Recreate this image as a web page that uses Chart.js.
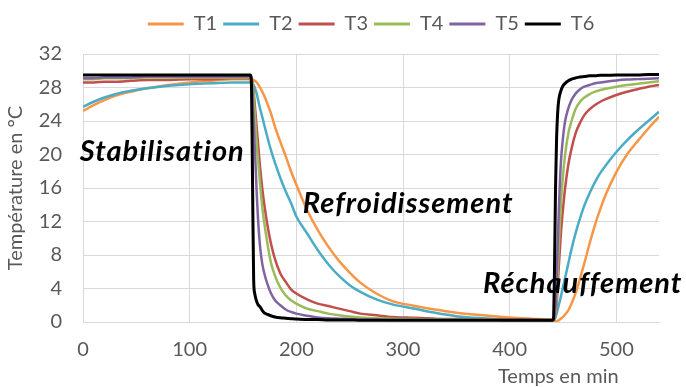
<!DOCTYPE html>
<html>
<head>
<meta charset="utf-8">
<script src="https://cdn.jsdelivr.net/npm/chart.js@4/dist/chart.umd.min.js"></script>
<style>
  html, body { margin: 0; padding: 0; background: #fff; }
  #box { width: 686px; height: 387px; }
</style>
</head>
<body>
<div id="box"><canvas id="myChart"></canvas></div>
<script>
// time in minutes
const times = [0,10,20,30,45,60,80,100,120,140,150,155,157,158,159,160,161,162,163,164,
  166,168,170,173,176,180,185,190,195,200,210,220,230,240,250,260,275,290,310,330,
  350,375,400,420,435,440,441,442,443,444,445,446,448,450,452,455,458,462,466,470,
  475,480,485,490,500,510,520,530,540];

const t1 = [25.2,25.9,26.5,27.0,27.5,27.9,28.3,28.6,28.8,29.0,29.0,29.0,29.0,29.0,29.0,28.9,28.8,28.7,28.6,28.4,
  28.0,27.5,27.0,26.0,25.0,23.3,21.5,19.8,18.0,16.4,13.4,11.0,9.0,7.3,5.9,4.7,3.4,2.5,1.95,1.5,
  1.1,0.8,0.55,0.4,0.3,0.25,0.2,0.15,0.1,0.1,0.15,0.2,0.4,0.6,0.9,1.4,2.2,3.5,5.2,7.0,
  9.4,11.6,13.5,15.2,17.9,20.0,21.6,23.1,24.5];
const t2 = [25.7,26.3,26.8,27.2,27.6,27.9,28.2,28.4,28.5,28.6,28.6,28.6,28.6,28.6,28.5,28.3,28.0,27.6,27.2,26.6,
  25.5,24.5,23.5,22.0,20.6,19.0,17.2,15.6,14.2,12.6,10.6,8.6,6.9,5.5,4.4,3.6,2.7,2.1,1.6,1.1,
  0.7,0.45,0.3,0.25,0.2,0.2,0.2,0.3,0.6,1.0,1.5,2.0,3.0,4.2,5.3,7.0,8.7,10.7,12.4,13.9,
  15.4,16.7,17.8,18.7,20.3,21.7,22.9,24.0,25.1];
const t3 = [28.6,28.6,28.7,28.7,28.8,28.9,28.9,29.0,29.0,29.1,29.1,29.1,29.1,29.0,28.6,27.5,26.0,24.5,23.0,21.5,
  18.5,16.0,14.0,11.5,9.5,7.5,5.8,4.8,3.9,3.4,2.7,2.2,1.9,1.6,1.3,1.0,0.8,0.6,0.5,0.4,
  0.35,0.3,0.3,0.3,0.25,0.25,0.3,0.4,0.8,2.0,4.0,6.5,10.5,13.5,16.0,18.8,20.7,22.6,23.8,24.7,
  25.4,25.9,26.3,26.6,27.1,27.5,27.8,28.1,28.3];
const t4 = [29.0,29.0,29.1,29.1,29.1,29.2,29.2,29.2,29.2,29.2,29.2,29.2,29.2,29.1,28.5,27.0,25.0,23.0,21.0,19.5,
  16.5,13.8,11.8,9.3,7.2,5.5,4.1,3.2,2.6,2.2,1.6,1.3,1.0,0.8,0.65,0.55,0.45,0.4,0.35,0.3,
  0.3,0.3,0.25,0.25,0.25,0.25,0.3,0.4,1.0,3.0,6.0,9.0,14.0,17.5,20.0,22.5,24.0,25.5,26.3,26.8,
  27.2,27.5,27.7,27.85,28.1,28.3,28.45,28.6,28.75];
const t5 = [29.1,29.1,29.2,29.2,29.2,29.3,29.3,29.3,29.3,29.3,29.3,29.3,29.3,29.0,27.0,24.0,21.0,18.0,15.0,12.5,
  9.0,7.0,5.8,4.5,3.5,2.6,2.0,1.5,1.2,1.0,0.75,0.55,0.45,0.4,0.35,0.3,0.3,0.25,0.25,0.25,
  0.25,0.25,0.2,0.2,0.2,0.2,0.3,0.5,2.0,5.0,9.0,13.0,19.0,22.0,24.0,25.5,26.5,27.3,27.8,28.1,
  28.3,28.5,28.6,28.7,28.85,28.95,29.0,29.05,29.1];
const t6 = [29.5,29.5,29.5,29.5,29.5,29.5,29.5,29.5,29.5,29.5,29.5,29.5,29.5,28.0,16.0,5.0,3.4,2.8,2.4,2.1,
  1.8,1.4,1.1,0.9,0.75,0.6,0.5,0.45,0.4,0.35,0.3,0.3,0.25,0.25,0.25,0.2,0.2,0.2,0.2,0.2,
  0.2,0.2,0.2,0.2,0.2,0.2,0.3,6.0,16.0,22.0,25.0,26.5,27.6,28.2,28.5,28.8,29.0,29.15,29.25,29.3,
  29.4,29.4,29.45,29.45,29.5,29.5,29.5,29.55,29.55];

const seriesNames = ["T1","T2","T3","T4","T5","T6"];
const seriesValues = [t1, t2, t3, t4, t5, t6];
const seriesColors = ["#F79646","#4BACC6","#C0504D","#9BBB59","#8064A2","#000000"];

const xTicks = [0,100,200,300,400,500];
const yTicks = [0,4,8,12,16,20,24,28,32];

// phase labels, anchored in data units (left edge, baseline)
const phaseNotes = [
  { text: "Stabilisation",   x: -3,  y: 19.2 },
  { text: "Refroidissement", x: 206, y: 13.0 },
  { text: "Réchauffement",   x: 375, y: 3.5 }
];

const grey = "#595959";
const gridColor = "#d9d9d9";

const datasets = seriesNames.map((name, i) => ({
  label: name,
  data: times.map((t, k) => ({ x: t, y: seriesValues[i][k] })),
  borderColor: seriesColors[i],
  backgroundColor: seriesColors[i],
  borderWidth: i == 5 ? 3 : 2.5,
  pointRadius: 0,
  cubicInterpolationMode: 'monotone',
  order: 5 - i   // T6 on top
}));

const phasePlugin = {
  id: 'phaseText',
  afterDatasetsDraw(chart) {
    const ctx = chart.ctx;
    const x = chart.scales.x, y = chart.scales.y;
    ctx.save();
    ctx.fillStyle = "#000";
    ctx.font = "italic bold 29px Lato";
    ctx.letterSpacing = "1px";
    ctx.textAlign = "left";
    ctx.textBaseline = "alphabetic";
    phaseNotes.forEach(n => {
      ctx.fillText(n.text, x.getPixelForValue(n.x), y.getPixelForValue(n.y));
    });
    // x axis title, right side under the ticks
    ctx.letterSpacing = "0px";
    ctx.fillStyle = grey;
    ctx.font = "20px Lato";
    ctx.fillText("Temps en min", 498, chart.height - 4);
    ctx.restore();
  }
};

// some room between legend and plot
const legendGap = {
  id: 'legendGap',
  beforeInit(chart) {
    const fit = chart.legend.fit;
    chart.legend.fit = function () {
      fit.bind(chart.legend)();
      this.height += 10;
    };
  }
};

const config = {
  type: 'line',
  data: { datasets },
  plugins: [phasePlugin, legendGap],
  options: {
    responsive: true,
    maintainAspectRatio: false,
    animation: false,
    layout: { padding: { top: 8, right: 27, bottom: 0, left: 0 } },
    plugins: {
      legend: {
        position: 'top',
        fullSize: false,
        labels: {
          color: grey,
          font: { family: 'Lato', size: 20 },
          boxWidth: 36,
          boxHeight: 3,
          padding: 6,
          sort: (a, b) => a.datasetIndex - b.datasetIndex,
          generateLabels(chart) {
            const items = Chart.defaults.plugins.legend.labels.generateLabels(chart);
            items.forEach(it => { it.lineWidth = 0; });
            return items;
          }
        }
      },
      tooltip: { enabled: false }
    },
    scales: {
      x: {
        type: 'linear',
        min: 0,
        max: 540,
        grid: { color: gridColor, drawTicks: false },
        border: { color: gridColor },
        afterFit(scale) { scale.height = 65; },
        afterBuildTicks(scale) { scale.ticks = xTicks.map(v => ({ value: v })); },
        ticks: {
          color: grey,
          font: { family: 'Lato', size: 20 },
          padding: 16,
          maxRotation: 0
        }
      },
      y: {
        min: 0,
        max: 32,
        grid: { color: gridColor, drawTicks: false },
        border: { display: false },
        afterFit(scale) { scale.width = 83; },
        afterBuildTicks(scale) { scale.ticks = yTicks.map(v => ({ value: v })); },
        ticks: {
          color: grey,
          font: { family: 'Lato', size: 20 },
          padding: 21
        },
        title: {
          display: true,
          text: 'Température en °C',
          color: grey,
          font: { family: 'Lato', size: 20 },
          padding: { top: 4, bottom: 0 }
        }
      }
    }
  }
};

const myChart = new Chart(document.getElementById('myChart'), config);
</script>
</body>
</html>
